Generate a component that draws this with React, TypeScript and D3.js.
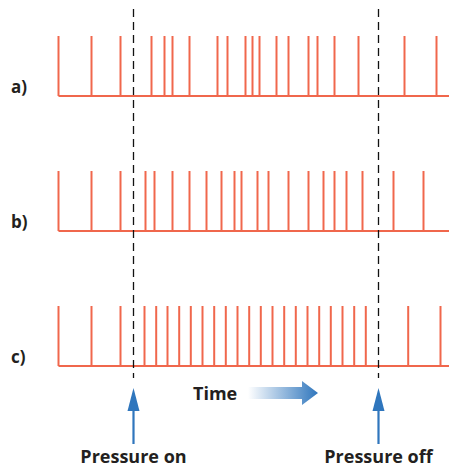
import React from "react";
import * as d3 from "d3";

const rowLabels = ["a)", "b)", "c)"];
const spikesA = [0, 33, 62, 93, 106, 114, 131, 159, 169, 187, 194, 201, 218, 230, 250, 259, 276, 300, 346, 378];
const spikesB = [0, 33, 62, 87, 96, 114, 131, 148, 163, 176, 183, 199, 210, 230, 250, 265, 276, 288, 304, 335, 365];
const spikesC = [0, 33, 62, 86, 97.7, 109, 120.7, 132.3, 144, 155.7, 167.3, 179, 190.7, 202.3, 214, 225.7, 237.3, 249, 260.7, 272.3, 284, 295.7, 307.3, 349.7, 382];
const spikeRows = [spikesA, spikesB, spikesC];
const events = [{ t: 75, label: "Pressure on" }, { t: 319.5, label: "Pressure off" }];
const axisLabel = "Time";

export default function App() {
  const W = 449, H = 469;
  const x = d3.scaleLinear().domain([0, 390]).range([58.5, 448.5]);
  const baseY = [96, 231, 366];
  const spikeH = 60;
  const red = "#f0674c";
  const blue = "#2f76bd";
  const font = "'Open Sans', Lato, sans-serif";
  return (
    <svg width={W} height={H} style={{ position: "absolute", left: 0, top: 0 }}>
      <defs>
        <linearGradient id="timeGrad" x1="0" x2="1" y1="0" y2="0">
          <stop offset="0" stopColor="#ffffff" />
          <stop offset="1" stopColor={blue} />
        </linearGradient>
      </defs>
      <rect width={W} height={H} fill="#fff" />
      {spikeRows.map((row, i) => (
        <g key={i}>
          <line x1={x(0)} x2={W + 2} y1={baseY[i]} y2={baseY[i]} stroke={red} strokeWidth={2} />
          {row.map((t, j) => (
            <line key={j} x1={x(t)} x2={x(t)} y1={baseY[i] - spikeH} y2={baseY[i]} stroke={red} strokeWidth={2} />
          ))}
          <text x={11} y={baseY[i] - 3} fontFamily={font} fontWeight={700} fontSize={17} fill="#231f20">
            {rowLabels[i]}
          </text>
        </g>
      ))}
      {events.map((e, i) => {
        const ex = Math.floor(x(e.t)) + 0.5;
        return (
          <g key={i}>
            <line x1={ex} x2={ex} y1={9} y2={378} stroke="#111" strokeWidth={1.3} strokeDasharray="8,5" />
            <line x1={ex} x2={ex} y1={400} y2={444} stroke={blue} strokeWidth={2.2} />
            <path d={`M${ex},388 L${ex - 6},411 L${ex + 6},411 Z`} fill={blue} />
            <text x={ex} y={463} textAnchor="middle" fontFamily={font} fontWeight={700} fontSize={18} fill="#231f20">
              {e.label}
            </text>
          </g>
        );
      })}
      <text x={193} y={400} fontFamily={font} fontWeight={700} fontSize={18} fill="#231f20">{axisLabel}</text>
      <path d="M248,387 L302,387 L302,381 L318,393 L302,405 L302,399 L248,399 Z" fill="url(#timeGrad)" />
    </svg>
  );
}
